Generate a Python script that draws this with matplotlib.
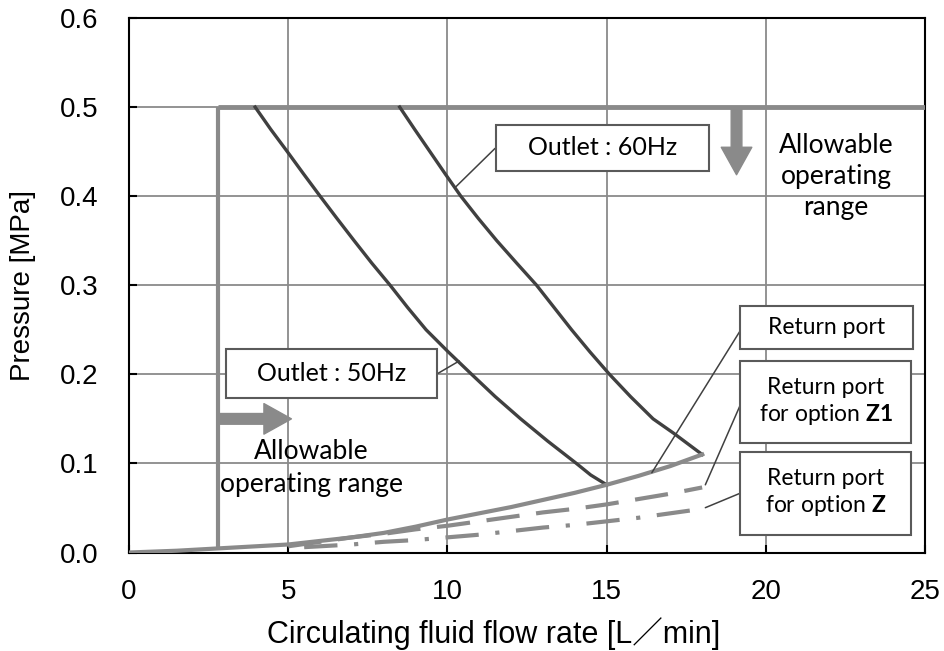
import matplotlib
matplotlib.use("Agg")
import matplotlib.pyplot as plt
from matplotlib.patches import Rectangle

# pump curves (flow L/min, pressure MPa)
hz50_flow = [3.96, 4.45, 4.97, 5.48, 6.0, 6.53, 7.07, 7.62, 8.2, 8.75, 9.33, 10.03,
             10.76, 11.5, 12.3, 13.15, 14.05, 14.5, 15.0]
hz50_pres = [0.5, 0.475, 0.45, 0.425, 0.4, 0.375, 0.35, 0.325, 0.3, 0.275, 0.25, 0.225,
             0.2, 0.175, 0.15, 0.125, 0.1, 0.087, 0.076]

hz60_flow = [8.5, 8.97, 9.45, 9.93, 10.42, 10.97, 11.55, 12.17, 12.8, 13.35, 13.9, 14.48,
             15.09, 15.75, 16.46, 17.1, 17.55, 18.0]
hz60_pres = [0.5, 0.475, 0.45, 0.425, 0.4, 0.375, 0.35, 0.325, 0.3, 0.275, 0.25, 0.225,
             0.2, 0.175, 0.15, 0.134, 0.122, 0.11]

# return port pressure loss
ret_flow = [0, 1.5, 3, 4, 5, 6, 7, 8, 9, 10, 11, 12, 13, 14, 15, 16, 17, 18]
ret_pres = [0.0, 0.002, 0.005, 0.007, 0.009, 0.013, 0.017, 0.022, 0.029, 0.037, 0.044,
            0.051, 0.059, 0.067, 0.076, 0.086, 0.097, 0.11]

z1_flow = [5, 6, 7, 8, 9, 10, 11, 12, 13, 14, 15, 16, 17, 18]
z1_pres = [0.007, 0.012, 0.017, 0.021, 0.026, 0.030, 0.035, 0.040, 0.045, 0.049, 0.054,
           0.060, 0.066, 0.073]

z_flow = [5.5, 7, 8, 9, 10, 11, 12, 13, 14, 15, 16, 17, 18]
z_pres = [0.006, 0.009, 0.012, 0.014, 0.017, 0.020, 0.024, 0.028, 0.031, 0.035, 0.039,
          0.044, 0.049]

# allowable operating range limits
min_flow = 2.8
max_pres = 0.5

x_ticks = [0, 5, 10, 15, 20, 25]
y_ticks = [0.0, 0.1, 0.2, 0.3, 0.4, 0.5, 0.6]

plt.rcParams['mathtext.fontset'] = 'custom'
plt.rcParams['mathtext.bf'] = 'Lato:bold'
plt.rcParams['mathtext.rm'] = 'Lato'

axfont = ['Liberation Sans', 'Noto Sans CJK JP']
lbl = 'Lato'

GRAY = '#8a8a8a'
DARK = '#404040'

fig = plt.figure(figsize=(9.44, 6.51), dpi=100)
ax = fig.add_axes([0.1367, 0.1513, 0.8432, 0.8211])

ax.set_xlim(0, 25)
ax.set_ylim(0, 0.6)
ax.set_xticks(x_ticks)
ax.set_yticks(y_ticks)
ax.set_xticklabels([str(t) for t in x_ticks], family=axfont, fontsize=20)
ax.set_yticklabels([f"{t:.1f}" for t in y_ticks], family=axfont, fontsize=20)
ax.tick_params(direction='in', length=6, width=1.5, color='black')
ax.tick_params(axis='x', pad=19)
ax.tick_params(axis='y', pad=22)
ax.grid(True, color=GRAY, lw=1.3)
ax.set_axisbelow(True)
for s in ax.spines.values():
    s.set_linewidth(1.5)
    s.set_color('black')

ax.set_xlabel('Circulating fluid flow rate [L／min]', family=axfont, fontsize=22, labelpad=9)
ax.xaxis.label.set_x(0.4585)
ax.set_ylabel('Pressure [MPa]', family=axfont, fontsize=20, labelpad=17)

# operating range boundaries
ax.plot([min_flow, min_flow], [0.005, max_pres], color=GRAY, lw=3, solid_capstyle='butt', zorder=3)
ax.plot([min_flow, 25], [max_pres, max_pres], color=GRAY, lw=3.5, solid_capstyle='butt', zorder=3)

# pump curves
ax.plot(hz50_flow, hz50_pres, color=DARK, lw=2.4, solid_joinstyle='round', zorder=4)
ax.plot(hz60_flow, hz60_pres, color=DARK, lw=2.4, solid_joinstyle='round', zorder=4)

# return port curves
ax.plot(ret_flow, ret_pres, color=GRAY, lw=3, solid_joinstyle='round', zorder=4)
ax.plot(z1_flow, z1_pres, color=GRAY, lw=3, dashes=(8, 4), zorder=4)
ax.plot(z_flow, z_pres, color=GRAY, lw=3, dashes=(8, 4, 1, 4), zorder=4)

# range arrows
arrow = dict(arrowstyle='simple,head_length=0.9,head_width=1.0,tail_width=0.35',
             color=GRAY, mutation_scale=22, shrinkA=0, shrinkB=0)
ax.annotate('', xy=(5.1, 0.15), xytext=(min_flow, 0.15), arrowprops=arrow, zorder=5)
ax.annotate('', xy=(19.08, 0.424), xytext=(19.08, max_pres), arrowprops=arrow, zorder=5)

ax.text(0.888, 0.704, 'Allowable\noperating\nrange', transform=ax.transAxes,
        ha='center', va='center', family=lbl, fontsize=19, linespacing=1.3)
ax.text(0.2295, 0.158, 'Allowable\noperating range', transform=ax.transAxes,
        ha='center', va='center', family=lbl, fontsize=19, linespacing=1.4)

# labelled boxes with leader lines: (x0, y0, w, h, text, fontsize, box anchor, curve point)
boxes = [
    (0.461, 0.714, 0.268, 0.086, 'Outlet : 60Hz', 18, (0.4598, 0.756), (10.25, 0.41)),
    (0.122, 0.2885, 0.2647, 0.0917, 'Outlet : 50Hz', 18, (0.388, 0.335), (10.37, 0.215)),
    (0.7676, 0.3807, 0.217, 0.081, 'Return port', 16.5, (0.7705, 0.4213), (16.42, 0.0896)),
    (0.7676, 0.2043, 0.2148, 0.154, 'Return port\nfor option $\\mathbf{Z1}$', 16.5, (0.7688, 0.279), (18.1, 0.076)),
    (0.7676, 0.0327, 0.2148, 0.156, 'Return port\nfor option $\\mathbf{Z}$', 16.5, (0.7676, 0.1108), (18.1, 0.0503)),
]
for x0, y0, w, h, txt, fs, anchor, pt in boxes:
    ax.add_patch(Rectangle((x0, y0), w, h, transform=ax.transAxes, facecolor='white',
                           edgecolor='#5a5a5a', lw=1.5, zorder=6))
    ax.text(x0 + w / 2, y0 + h / 2, txt, transform=ax.transAxes, ha='center', va='center',
            family=lbl, fontsize=fs, linespacing=1.2, zorder=7)
    ax.annotate('', xy=pt, xycoords='data', xytext=anchor, textcoords='axes fraction',
                arrowprops=dict(arrowstyle='-', color=DARK, lw=1.1, shrinkA=0, shrinkB=0), zorder=5)

fig.savefig('out.png', dpi=100)
